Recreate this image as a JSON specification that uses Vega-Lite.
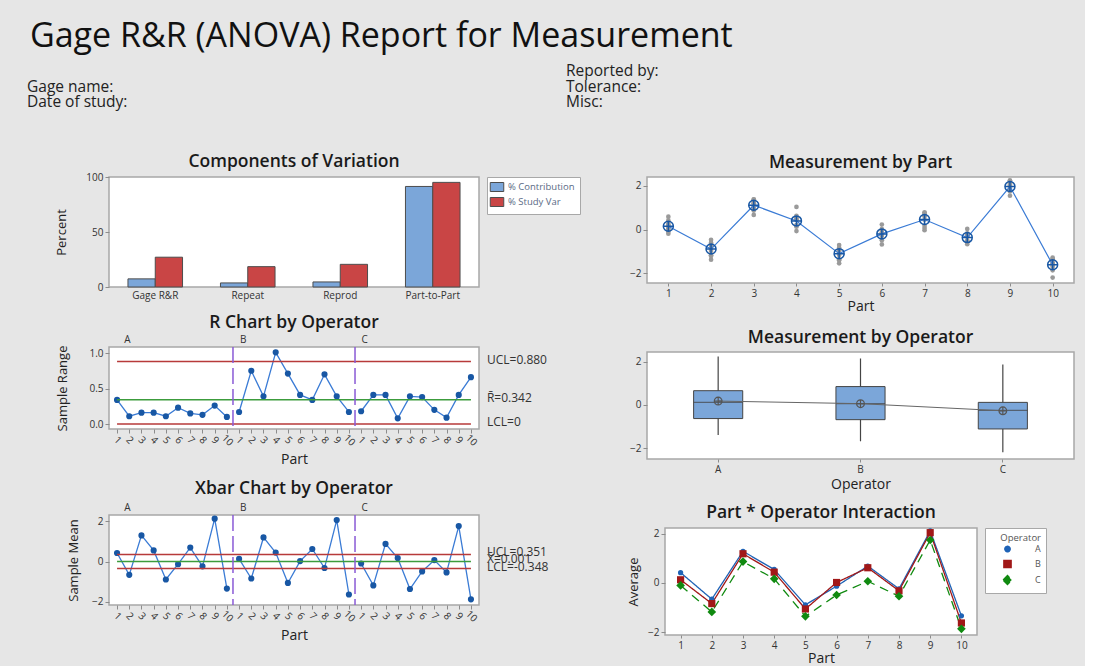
{
"$schema": "https://vega.github.io/schema/vega-lite/v6.json",
"background": "#e6e6e6",
"padding": {"left": 27, "top": 20, "right": 10, "bottom": 4},
"bounds": "flush",
"spacing": 75,
"resolve": {"scale": {"color": "independent", "shape": "independent", "strokeDash": "independent", "size": "independent"}},
"config": {
  "font": "Open Sans",
  "view": {"fill": "white", "stroke": "#a8a8a8", "strokeWidth": 1.5},
  "axis": {"grid": false, "domain": false, "tickColor": "#8c8c8c", "tickSize": 4, "labelColor": "#333333", "labelFontSize": 10, "labelFont": "Open Sans", "titleFont": "Open Sans", "titleFontWeight": "normal", "titleFontSize": 14, "titleColor": "#222222"},
  "title": {"font": "Open Sans", "fontSize": 17.5, "fontWeight": 600, "color": "#1a1a1a"},
  "legend": {"labelFont": "Open Sans", "titleFont": "Open Sans"}
},
"datasets": {
  "header": [
    {"side": "right", "line": 0, "label": "Reported by:"},
    {"side": "left", "line": 1, "label": "Gage name:"},
    {"side": "right", "line": 1, "label": "Tolerance:"},
    {"side": "left", "line": 2, "label": "Date of study:"},
    {"side": "right", "line": 2, "label": "Misc:"}
  ],
  "comp": [
    {"component": "Gage R&R", "stat": "% Contribution", "percent": 7.4},
    {"component": "Gage R&R", "stat": "% Study Var", "percent": 27.1},
    {"component": "Repeat", "stat": "% Contribution", "percent": 3.7},
    {"component": "Repeat", "stat": "% Study Var", "percent": 18.5},
    {"component": "Reprod", "stat": "% Contribution", "percent": 4.6},
    {"component": "Reprod", "stat": "% Study Var", "percent": 20.6},
    {"component": "Part-to-Part", "stat": "% Contribution", "percent": 91.4},
    {"component": "Part-to-Part", "stat": "% Study Var", "percent": 95.1}
  ],
  "means": [
    {"operator": "A", "part": 1, "sample": 1, "mean": 0.42, "range": 0.34},
    {"operator": "A", "part": 2, "sample": 2, "mean": -0.66, "range": 0.11},
    {"operator": "A", "part": 3, "sample": 3, "mean": 1.29, "range": 0.16},
    {"operator": "A", "part": 4, "sample": 4, "mean": 0.55, "range": 0.16},
    {"operator": "A", "part": 5, "sample": 5, "mean": -0.89, "range": 0.11},
    {"operator": "A", "part": 6, "sample": 6, "mean": -0.13, "range": 0.23},
    {"operator": "A", "part": 7, "sample": 7, "mean": 0.69, "range": 0.15},
    {"operator": "A", "part": 8, "sample": 8, "mean": -0.24, "range": 0.13},
    {"operator": "A", "part": 9, "sample": 9, "mean": 2.12, "range": 0.26},
    {"operator": "A", "part": 10, "sample": 10, "mean": -1.34, "range": 0.10},
    {"operator": "B", "part": 1, "sample": 11, "mean": 0.13, "range": 0.17},
    {"operator": "B", "part": 2, "sample": 12, "mean": -0.84, "range": 0.75},
    {"operator": "B", "part": 3, "sample": 13, "mean": 1.19, "range": 0.39},
    {"operator": "B", "part": 4, "sample": 14, "mean": 0.44, "range": 1.01},
    {"operator": "B", "part": 5, "sample": 15, "mean": -1.06, "range": 0.71},
    {"operator": "B", "part": 6, "sample": 16, "mean": 0.02, "range": 0.41},
    {"operator": "B", "part": 7, "sample": 17, "mean": 0.62, "range": 0.34},
    {"operator": "B", "part": 8, "sample": 18, "mean": -0.32, "range": 0.70},
    {"operator": "B", "part": 9, "sample": 19, "mean": 2.05, "range": 0.39},
    {"operator": "B", "part": 10, "sample": 20, "mean": -1.63, "range": 0.17},
    {"operator": "C", "part": 1, "sample": 21, "mean": -0.10, "range": 0.18},
    {"operator": "C", "part": 2, "sample": 22, "mean": -1.18, "range": 0.41},
    {"operator": "C", "part": 3, "sample": 23, "mean": 0.87, "range": 0.41},
    {"operator": "C", "part": 4, "sample": 24, "mean": 0.17, "range": 0.08},
    {"operator": "C", "part": 5, "sample": 25, "mean": -1.36, "range": 0.39},
    {"operator": "C", "part": 6, "sample": 26, "mean": -0.49, "range": 0.38},
    {"operator": "C", "part": 7, "sample": 27, "mean": 0.07, "range": 0.20},
    {"operator": "C", "part": 8, "sample": 28, "mean": -0.54, "range": 0.09},
    {"operator": "C", "part": 9, "sample": 29, "mean": 1.75, "range": 0.41},
    {"operator": "C", "part": 10, "sample": 30, "mean": -1.87, "range": 0.66}
  ],
  "meas": [
    {"operator": "A", "part": 1, "value": 0.25}, {"operator": "A", "part": 1, "value": 0.42}, {"operator": "A", "part": 1, "value": 0.59},
    {"operator": "A", "part": 2, "value": -0.72}, {"operator": "A", "part": 2, "value": -0.66}, {"operator": "A", "part": 2, "value": -0.60},
    {"operator": "A", "part": 3, "value": 1.21}, {"operator": "A", "part": 3, "value": 1.29}, {"operator": "A", "part": 3, "value": 1.37},
    {"operator": "A", "part": 4, "value": 0.47}, {"operator": "A", "part": 4, "value": 0.55}, {"operator": "A", "part": 4, "value": 0.63},
    {"operator": "A", "part": 5, "value": -0.95}, {"operator": "A", "part": 5, "value": -0.89}, {"operator": "A", "part": 5, "value": -0.83},
    {"operator": "A", "part": 6, "value": -0.25}, {"operator": "A", "part": 6, "value": -0.13}, {"operator": "A", "part": 6, "value": -0.01},
    {"operator": "A", "part": 7, "value": 0.62}, {"operator": "A", "part": 7, "value": 0.69}, {"operator": "A", "part": 7, "value": 0.76},
    {"operator": "A", "part": 8, "value": -0.31}, {"operator": "A", "part": 8, "value": -0.24}, {"operator": "A", "part": 8, "value": -0.17},
    {"operator": "A", "part": 9, "value": 1.99}, {"operator": "A", "part": 9, "value": 2.12}, {"operator": "A", "part": 9, "value": 2.25},
    {"operator": "A", "part": 10, "value": -1.39}, {"operator": "A", "part": 10, "value": -1.34}, {"operator": "A", "part": 10, "value": -1.29},
    {"operator": "B", "part": 1, "value": 0.05}, {"operator": "B", "part": 1, "value": 0.13}, {"operator": "B", "part": 1, "value": 0.21},
    {"operator": "B", "part": 2, "value": -1.21}, {"operator": "B", "part": 2, "value": -0.84}, {"operator": "B", "part": 2, "value": -0.47},
    {"operator": "B", "part": 3, "value": 0.99}, {"operator": "B", "part": 3, "value": 1.19}, {"operator": "B", "part": 3, "value": 1.39},
    {"operator": "B", "part": 4, "value": -0.07}, {"operator": "B", "part": 4, "value": 0.44}, {"operator": "B", "part": 4, "value": 1.04},
    {"operator": "B", "part": 5, "value": -1.41}, {"operator": "B", "part": 5, "value": -1.06}, {"operator": "B", "part": 5, "value": -0.71},
    {"operator": "B", "part": 6, "value": -0.19}, {"operator": "B", "part": 6, "value": 0.02}, {"operator": "B", "part": 6, "value": 0.23},
    {"operator": "B", "part": 7, "value": 0.45}, {"operator": "B", "part": 7, "value": 0.62}, {"operator": "B", "part": 7, "value": 0.79},
    {"operator": "B", "part": 8, "value": -0.67}, {"operator": "B", "part": 8, "value": -0.32}, {"operator": "B", "part": 8, "value": 0.03},
    {"operator": "B", "part": 9, "value": 1.86}, {"operator": "B", "part": 9, "value": 2.05}, {"operator": "B", "part": 9, "value": 2.24},
    {"operator": "B", "part": 10, "value": -1.71}, {"operator": "B", "part": 10, "value": -1.63}, {"operator": "B", "part": 10, "value": -1.55},
    {"operator": "C", "part": 1, "value": -0.19}, {"operator": "C", "part": 1, "value": -0.10}, {"operator": "C", "part": 1, "value": -0.01},
    {"operator": "C", "part": 2, "value": -1.38}, {"operator": "C", "part": 2, "value": -1.18}, {"operator": "C", "part": 2, "value": -0.98},
    {"operator": "C", "part": 3, "value": 0.67}, {"operator": "C", "part": 3, "value": 0.87}, {"operator": "C", "part": 3, "value": 1.07},
    {"operator": "C", "part": 4, "value": 0.13}, {"operator": "C", "part": 4, "value": 0.17}, {"operator": "C", "part": 4, "value": 0.21},
    {"operator": "C", "part": 5, "value": -1.55}, {"operator": "C", "part": 5, "value": -1.36}, {"operator": "C", "part": 5, "value": -1.17},
    {"operator": "C", "part": 6, "value": -0.68}, {"operator": "C", "part": 6, "value": -0.49}, {"operator": "C", "part": 6, "value": -0.30},
    {"operator": "C", "part": 7, "value": -0.03}, {"operator": "C", "part": 7, "value": 0.07}, {"operator": "C", "part": 7, "value": 0.17},
    {"operator": "C", "part": 8, "value": -0.58}, {"operator": "C", "part": 8, "value": -0.54}, {"operator": "C", "part": 8, "value": -0.50},
    {"operator": "C", "part": 9, "value": 1.55}, {"operator": "C", "part": 9, "value": 1.75}, {"operator": "C", "part": 9, "value": 1.95},
    {"operator": "C", "part": 10, "value": -2.20}, {"operator": "C", "part": 10, "value": -1.87}, {"operator": "C", "part": 10, "value": -1.54}
  ],
  "box": [
    {"operator": "A", "lower": -1.39, "q1": -0.63, "median": 0.12, "q3": 0.66, "upper": 2.24, "mean": 0.18},
    {"operator": "B", "lower": -1.68, "q1": -0.68, "median": 0.06, "q3": 0.85, "upper": 2.15, "mean": 0.06},
    {"operator": "C", "lower": -2.19, "q1": -1.11, "median": -0.25, "q3": 0.12, "upper": 1.87, "mean": -0.27}
  ],
  "rLimits": [
    {"kind": "limit", "value": 0.88, "label": "UCL=0.880"},
    {"kind": "center", "value": 0.342, "label": "R̄=0.342"},
    {"kind": "limit", "value": 0, "label": "LCL=0"}
  ],
  "xLimits": [
    {"kind": "limit", "value": 0.351, "label": "UCL=0.351"},
    {"kind": "center", "value": 0.001, "label": "X̄=0.001"},
    {"kind": "limit", "value": -0.348, "label": "LCL=-0.348"}
  ],
  "seps": [{"boundary": 10.5}, {"boundary": 20.5}]
},
"vconcat": [
  {
    "width": 539, "height": 31,
    "view": {"fill": null, "stroke": null},
    "title": {"text": "Gage R&R (ANOVA) Report for Measurement", "anchor": "start", "fontSize": 34, "fontWeight": "normal", "color": "#111111", "dx": 3, "offset": 10},
    "data": {"name": "header"},
    "mark": {"type": "text", "align": "left", "baseline": "middle", "dx": -82, "fontSize": 15.5, "color": "#222222"},
    "encoding": {
      "x": {"field": "side", "type": "nominal", "scale": {"type": "point", "domain": ["left", "right"], "padding": 0}, "axis": null},
      "y": {"field": "line", "type": "ordinal", "scale": {"type": "point", "domain": [0, 1, 2], "padding": 0}, "axis": null},
      "text": {"field": "label"}
    }
  },
  {
    "resolve": {"scale": {"color": "independent", "shape": "independent", "strokeDash": "independent", "size": "independent"}},
    "hconcat": [
      {
        "resolve": {"scale": {"color": "independent"}},
        "vconcat": [
          {
            "width": 370, "height": 110,
            "title": {"text": "Components of Variation", "offset": 2},
            "data": {"name": "comp"},
            "mark": {"type": "bar", "stroke": "#4d4d4d", "strokeWidth": 1},
            "encoding": {
              "x": {"field": "component", "type": "nominal", "sort": ["Gage R&R", "Repeat", "Reprod", "Part-to-Part"], "scale": {"paddingInner": 0.41, "paddingOuter": 0.205}, "axis": {"title": null, "labelAngle": 0, "ticks": false, "labelPadding": 3}},
              "xOffset": {"field": "stat", "type": "nominal", "sort": ["% Contribution", "% Study Var"]},
              "y": {"field": "percent", "type": "quantitative", "scale": {"domain": [0, 100], "nice": false}, "axis": {"values": [0, 50, 100], "title": "Percent", "titleFontSize": 13, "titlePadding": 17}},
              "color": {"field": "stat", "type": "nominal", "scale": {"domain": ["% Contribution", "% Study Var"], "range": ["#7ba6d9", "#c94545"]}, "legend": {"title": null, "orient": "right", "offset": 8, "fillColor": "white", "strokeColor": "#a8a8a8", "padding": 5, "symbolType": "M-1.5,-1H1.5V1H-1.5Z", "symbolSize": 81, "symbolStrokeColor": "#4d4d4d", "symbolStrokeWidth": 1, "labelFontSize": 9.5, "labelOffset": 6, "labelColor": "#5a6a85", "rowPadding": 1}}
            }
          },
          {
            "resolve": {"scale": {"color": "independent"}},
            "vconcat": [
              {
                "width": 370, "height": 82,
                "title": {"text": "R Chart by Operator", "offset": 3},
                "layer": [
                  {
                    "data": {"name": "means"},
                    "mark": {"type": "line", "color": "#3a7bd5", "strokeWidth": 1.3, "point": {"filled": true, "color": "#1857a4", "size": 38}},
                    "encoding": {
                      "x": {"field": "sample", "type": "quantitative", "scale": {"domain": [0.34, 30.66], "nice": false, "zero": false}, "axis": {"values": [1,2,3,4,5,6,7,8,9,10,11,12,13,14,15,16,17,18,19,20,21,22,23,24,25,26,27,28,29,30], "labelExpr": "(datum.value - 1) % 10 + 1", "labelAngle": 45, "labelAlign": "center", "labelBaseline": "middle", "labelPadding": 7, "labelOverlap": false, "labelFlush": false, "title": "Part", "titlePadding": 5}},
                      "y": {"field": "range", "type": "quantitative", "scale": {"domain": [-0.07, 1.085], "nice": false, "zero": false}, "axis": {"values": [0, 0.5, 1], "format": ".1f", "title": "Sample Range", "titleFontSize": 13, "titlePadding": 19}},
                      "detail": {"field": "operator"}
                    }
                  },
                  {
                    "data": {"name": "rLimits"},
                    "mark": {"type": "rule", "strokeWidth": 1.5},
                    "encoding": {
                      "x": {"datum": 1, "type": "quantitative", "scale": {"domain": [0.34, 30.66], "nice": false, "zero": false}, "axis": null},
                      "x2": {"datum": 30},
                      "y": {"field": "value", "type": "quantitative", "axis": {"title": "Sample Range"}},
                      "color": {"field": "kind", "type": "nominal", "scale": {"domain": ["limit", "center"], "range": ["#b73a3a", "#3c9c3c"]}, "legend": null}
                    }
                  },
                  {
                    "data": {"name": "rLimits"},
                    "mark": {"type": "text", "align": "left", "baseline": "middle", "dx": 16, "dy": -2, "fontSize": 12, "color": "#333333"},
                    "encoding": {
                      "x": {"datum": 30, "type": "quantitative", "scale": {"domain": [0.34, 30.66], "nice": false, "zero": false}, "axis": null},
                      "y": {"field": "value", "type": "quantitative", "axis": {"title": "Sample Range"}},
                      "text": {"field": "label"}
                    }
                  },
                  {
                    "data": {"name": "seps"},
                    "mark": {"type": "rule", "color": "#8a5ad6", "strokeDash": [16, 5], "strokeWidth": 1.5},
                    "encoding": {
                      "x": {"field": "boundary", "type": "quantitative", "scale": {"domain": [0.34, 30.66], "nice": false, "zero": false}, "axis": {"orient": "top", "values": [1.8, 11.3, 21.25], "labelExpr": "datum.value < 10 ? 'A' : datum.value < 20 ? 'B' : 'C'", "ticks": false, "title": null, "labelPadding": 3, "labelFontSize": 10}}
                    }
                  }
                ],
                "resolve": {"axis": {"x": "independent"}}
              },
              {
                "width": 370, "height": 90,
                "title": {"text": "Xbar Chart by Operator", "offset": 5},
                "layer": [
                  {
                    "data": {"name": "means"},
                    "mark": {"type": "line", "color": "#3a7bd5", "strokeWidth": 1.3, "point": {"filled": true, "color": "#1857a4", "size": 38}},
                    "encoding": {
                      "x": {"field": "sample", "type": "quantitative", "scale": {"domain": [0.34, 30.66], "nice": false, "zero": false}, "axis": {"values": [1,2,3,4,5,6,7,8,9,10,11,12,13,14,15,16,17,18,19,20,21,22,23,24,25,26,27,28,29,30], "labelExpr": "(datum.value - 1) % 10 + 1", "labelAngle": 45, "labelAlign": "center", "labelBaseline": "middle", "labelPadding": 7, "labelOverlap": false, "labelFlush": false, "title": "Part", "titlePadding": 5}},
                      "y": {"field": "mean", "type": "quantitative", "scale": {"domain": [-2.15, 2.3], "nice": false, "zero": false}, "axis": {"values": [-2, 0, 2], "title": "Sample Mean", "titleFontSize": 13, "titlePadding": 11}},
                      "detail": {"field": "operator"}
                    }
                  },
                  {
                    "data": {"name": "xLimits"},
                    "mark": {"type": "rule", "strokeWidth": 1.5},
                    "encoding": {
                      "x": {"datum": 1, "type": "quantitative", "scale": {"domain": [0.34, 30.66], "nice": false, "zero": false}, "axis": null},
                      "x2": {"datum": 30},
                      "y": {"field": "value", "type": "quantitative", "axis": {"title": "Sample Mean"}},
                      "color": {"field": "kind", "type": "nominal", "scale": {"domain": ["limit", "center"], "range": ["#b73a3a", "#3c9c3c"]}, "legend": null}
                    }
                  },
                  {
                    "data": {"name": "xLimits"},
                    "mark": {"type": "text", "align": "left", "baseline": "middle", "dx": 16, "dy": -2, "fontSize": 12, "color": "#333333"},
                    "encoding": {
                      "x": {"datum": 30, "type": "quantitative", "scale": {"domain": [0.34, 30.66], "nice": false, "zero": false}, "axis": null},
                      "y": {"field": "value", "type": "quantitative", "axis": {"title": "Sample Mean"}},
                      "text": {"field": "label"}
                    }
                  },
                  {
                    "data": {"name": "seps"},
                    "mark": {"type": "rule", "color": "#8a5ad6", "strokeDash": [16, 5], "strokeWidth": 1.5},
                    "encoding": {
                      "x": {"field": "boundary", "type": "quantitative", "scale": {"domain": [0.34, 30.66], "nice": false, "zero": false}, "axis": {"orient": "top", "values": [1.8, 11.3, 21.25], "labelExpr": "datum.value < 10 ? 'A' : datum.value < 20 ? 'B' : 'C'", "ticks": false, "title": null, "labelPadding": 3, "labelFontSize": 10}}
                    }
                  }
                ],
                "resolve": {"axis": {"x": "independent"}}
              }
            ],
            "spacing": 86,
            "bounds": "flush"
          }
        ],
        "spacing": 60,
        "bounds": "flush"
      },
      {
        "resolve": {"scale": {"color": "independent", "shape": "independent", "strokeDash": "independent", "size": "independent"}},
        "vconcat": [
          {
            "width": 427, "height": 106,
            "title": {"text": "Measurement by Part", "offset": 6},
            "data": {"name": "meas"},
            "encoding": {
              "x": {"field": "part", "type": "ordinal", "scale": {"type": "point", "padding": 0.5}, "axis": {"labelAngle": 0, "title": "Part", "tickSize": 3, "labelPadding": 2, "titlePadding": 1}}
            },
            "layer": [
              {
                "mark": {"type": "circle", "color": "#9a9a9a", "size": 22, "opacity": 1},
                "encoding": {"y": {"field": "value", "type": "quantitative", "scale": {"domain": [-2.45, 2.41], "nice": false, "zero": false}, "axis": {"values": [-2, 0, 2], "title": null}}}
              },
              {
                "mark": {"type": "line", "color": "#3a7bd5", "strokeWidth": 1.2},
                "encoding": {"y": {"aggregate": "mean", "field": "value", "type": "quantitative", "axis": {"title": null}}}
              },
              {
                "mark": {"type": "point", "shape": "M-1,0A1,1 0 1,1 1,0A1,1 0 1,1 -1,0M-1,0L1,0M0,-1L0,1", "filled": false, "color": "#1857a4", "size": 100, "strokeWidth": 1.5, "opacity": 1},
                "encoding": {"y": {"aggregate": "mean", "field": "value", "type": "quantitative", "axis": {"title": null}}}
              }
            ]
          },
          {
            "width": 427, "height": 107,
            "title": {"text": "Measurement by Operator", "offset": 6},
            "data": {"name": "box"},
            "encoding": {
              "x": {"field": "operator", "type": "nominal", "scale": {"type": "band", "paddingInner": 0.655, "paddingOuter": 0.3275}, "axis": {"labelAngle": 0, "title": "Operator", "tickSize": 3, "labelPadding": 2, "titlePadding": 3}}
            },
            "layer": [
              {
                "mark": {"type": "rule", "color": "#444444", "strokeWidth": 1.2},
                "encoding": {
                  "y": {"field": "lower", "type": "quantitative", "scale": {"domain": [-2.5, 2.45], "nice": false, "zero": false}, "axis": {"values": [-2, 0, 2], "title": null}},
                  "y2": {"field": "upper"}
                }
              },
              {
                "mark": {"type": "bar", "fill": "#7ba6d9", "stroke": "#444444", "strokeWidth": 1},
                "encoding": {"y": {"field": "q1", "type": "quantitative", "axis": {"title": null}}, "y2": {"field": "q3"}}
              },
              {
                "mark": {"type": "tick", "color": "#444444", "thickness": 1.2},
                "encoding": {"y": {"field": "median", "type": "quantitative", "axis": {"title": null}}}
              },
              {
                "mark": {"type": "line", "color": "#666666", "strokeWidth": 1},
                "encoding": {"y": {"field": "mean", "type": "quantitative", "axis": {"title": null}}}
              },
              {
                "mark": {"type": "point", "shape": "M-1,0A1,1 0 1,1 1,0A1,1 0 1,1 -1,0M-1,0L1,0M0,-1L0,1", "filled": false, "color": "#555555", "size": 60, "strokeWidth": 1.2, "opacity": 1},
                "encoding": {"y": {"field": "mean", "type": "quantitative", "axis": {"title": null}}}
              }
            ]
          },
          {
            "resolve": {"scale": {"color": "independent", "shape": "independent", "strokeDash": "independent", "size": "independent"}},
            "hconcat": [
              {
                "width": 1, "height": 1,
                "view": {"fill": null, "stroke": null},
                "data": {"values": [{"blank": ""}]},
                "mark": {"type": "text"},
                "encoding": {"text": {"field": "blank"}}
              },
              {
                "width": 312, "height": 107,
                "title": {"text": "Part * Operator Interaction", "offset": 6},
                "data": {"name": "means"},
                "encoding": {
                  "x": {"field": "part", "type": "ordinal", "scale": {"type": "point", "padding": 0.5}, "axis": {"labelAngle": 0, "title": "Part", "tickSize": 3, "labelPadding": 2, "titlePadding": 1}},
                  "y": {"field": "mean", "type": "quantitative", "scale": {"domain": [-2.12, 2.24], "nice": false, "zero": false}, "axis": {"values": [-2, 0, 2], "title": "Average", "titleFontSize": 13, "titlePadding": 7}},
                  "color": {"field": "operator", "type": "nominal", "title": "Operator", "scale": {"domain": ["A", "B", "C"], "range": ["#1f63b6", "#a11818", "#108a10"]}, "legend": {"orient": "right", "offset": 8, "fillColor": "white", "strokeColor": "#a8a8a8", "padding": 5, "symbolOffset": 12, "symbolStrokeWidth": 1.5, "labelOffset": 22, "titleFontSize": 9.5, "titleFontWeight": "normal", "titleColor": "#555555", "titleAnchor": "end", "titlePadding": 2, "labelFontSize": 9, "labelColor": "#555555", "rowPadding": 1}}
                },
                "layer": [
                  {
                    "mark": {"type": "line", "strokeWidth": 1.3},
                    "encoding": {"strokeDash": {"field": "operator", "type": "nominal", "title": "Operator", "scale": {"domain": ["A", "B", "C"], "range": [[1, 0], [1, 0], [9, 6]]}}}
                  },
                  {
                    "mark": {"type": "point", "filled": true, "opacity": 1},
                    "encoding": {
                      "shape": {"field": "operator", "type": "nominal", "scale": {"domain": ["A", "B", "C"], "range": ["circle", "square", "diamond"]}, "legend": null},
                      "size": {"field": "operator", "type": "nominal", "scale": {"domain": ["A", "B", "C"], "range": [28, 75, 90]}, "legend": null}
                    }
                  }
                ]
              }
            ],
            "spacing": 17,
            "bounds": "flush"
          }
        ],
        "spacing": 69,
        "bounds": "flush"
      }
    ],
    "spacing": 44
  }
]
}
